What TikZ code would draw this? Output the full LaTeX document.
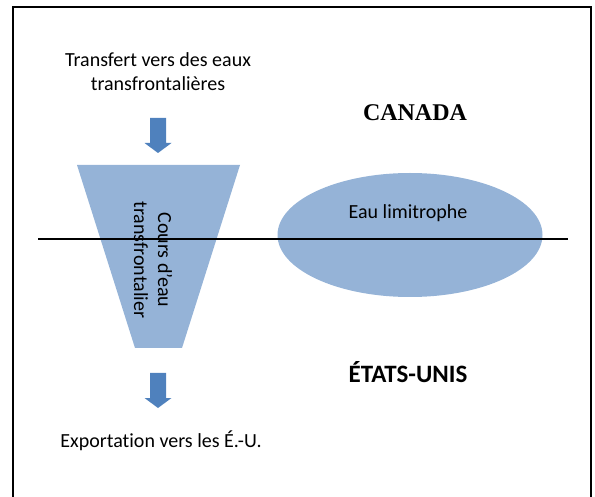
\documentclass[tikz,border=0pt]{standalone}
\usepackage{fontspec}
\setmainfont[RawFeature=-liga]{Carlito}
\newfontfamily\titlefont{Liberation Serif}
\usetikzlibrary{shapes.geometric}
\definecolor{waterblue}{RGB}{149,179,215}
\definecolor{arrowblue}{RGB}{79,129,189}
\tikzset{
  label/.style={font=\fontsize{20}{24}\selectfont, align=center, inner sep=0pt},
  country/.style={font=\fontsize{25}{30}\selectfont\bfseries, inner sep=0pt},
  blockarrow/.pic={\fill[arrowblue] (-8,0) -- (8,0) -- (8,25) -- (13.5,25) -- (0,35) -- (-13.5,25) -- (-8,25) -- cycle;}
}
\begin{document}
\begin{tikzpicture}[x=1pt,y=-1pt]
	\useasboundingbox (0,0) rectangle (595,497);
	% frame
	\draw [line width=2.5pt] (13,505) -- (13,7) -- (591,7) -- (591,505);
	% water bodies
	\fill [waterblue] (77,165) -- (240,165) -- (182,348) -- (135,348) -- cycle;
	\node [ellipse, fill=waterblue, minimum width=265, minimum height=124, inner sep=0pt] (limit) at (410,235) {};
	% border
	\coordinate (west) at (38,239);
	\coordinate (east) at (568,239);
	\draw [line width=2.8pt] (west) -- (east);
	% labels
	\node [label] (transfer) at (158,72) {Transfert vers des eaux\\transfrontalières};
	\pic at (158,118) {blockarrow};
	\node [label, rotate=-90] (course) at (153,260) {Cours d’eau\\transfrontalier};
	\pic at (158,373) {blockarrow};
	\node [label] (export) at (161,441) {Exportation vers les É.-U.};
	\node [label] (limitlabel) at (408,213) {Eau limitrophe};
	\node [country, font=\titlefont\fontsize{24}{29}\selectfont\bfseries] (canada) at (415,113) {CANADA};
	\node [country] (usa) at (408,372) {ÉTATS-UNIS};
\end{tikzpicture}
\end{document}
